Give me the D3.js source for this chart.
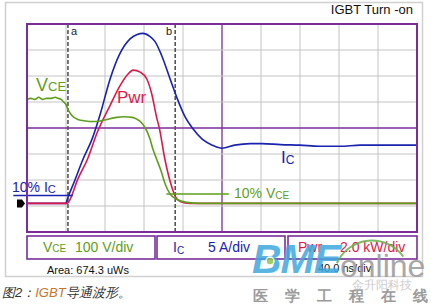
<!DOCTYPE html>
<html><head><meta charset="utf-8">
<script src="https://cdn.jsdelivr.net/npm/d3@7"></script>
<style>
body{margin:0;background:#fff}
svg{display:block}
text{font-family:"Liberation Sans",Arial,sans-serif}
</style>
</head><body>
<svg id="chart" width="431" height="305"></svg>
<script>
// ---- data ----
const timeTicks = d3.range(0, 401, 40);      // 40.0 ns/div, 10 divisions
const divTicks  = d3.range(-4, 5, 1);        // 8 vertical divisions
const groundDiv = -2.9;                      // ground reference marker (divisions)

const vceTime  = [0,4,8,12,16,20,25,29,32,35,37,40,42,46,52,60,68,75,82,92,100,108,113,117,121,126,129,133,137,142,147,154,164,177,400];
const vceVolts = [400,404,400,408,400,404,404,408,404,400,392,380,362,338,323,317,315,317,323,331,333,331,323,312,292,250,210,170,130,72,35,15,4,0,0];

const icTime = [0,40,41,49,57,67,75,85,95,106,113,119,126,131,138,147,154,162,170,180,190,200,213,229,241,260,280,300,321,342,362,383,400];
const icAmps = [0,0,0.6,4.4,8.3,12.5,17.1,23.8,28.7,31.7,32.5,32.7,32.1,31.2,28.5,23.8,20.2,16.7,14.4,12.3,11.2,10.6,11.2,11.5,11.5,11.3,11.2,11.0,11.0,11.2,11.2,11.2,11.2];

const pwrTime = [0,41,43,52,62,72,85,95,103,109,116,123,128,133,136,141,145,149,152,157,167,400];
const pwrKW   = [0,0,0.15,1.85,3.4,5.45,7.5,9.0,9.9,10.25,10.1,9.55,8.4,6.6,5.7,3.55,2.2,1.15,0.55,0.15,0,0];

const cursorNames = ["a", "b"];
const cursorTimes = [42, 152];

const tenPctIC  = 1.5;     // A
const tenPctVCE = 36;      // V

const channelNames  = ["V", "I", "Pwr"];
const channelSubs   = ["CE", "C", ""];
const channelScales = ["100 V/div", "5 A/div", "2.0 kW/div"];
const channelPerDiv = [100, 5, 2.0];
const areaText = "Area:  674.3 uWs";
const timebaseText = "40.0 ns/div";
const titleText = "IGBT Turn -on";
const watermarkChars = ["医", "学", "工", "程", "在", "线"];

// ---- styles ----
const C = {green:"#5e9e1c", blue:"#1a22b0", red:"#dc1a4a", purple:"#7b2d9b", grid:"#c4c4c4", frame:"#d0d0d0"};

const svg = d3.select("#chart");
const L = 27, R = 417, T = 24, B = 232;

const x = d3.scaleLinear().domain([0, 400]).range([L, R]);
const yDiv = d3.scaleLinear().domain([-4, 4]).range([B, T]);
const chanY = vpd => d3.scaleLinear().domain([(-4 - groundDiv) * vpd, (4 - groundDiv) * vpd]).range([B, T]);
const yV = chanY(channelPerDiv[0]), yI = chanY(channelPerDiv[1]), yP = chanY(channelPerDiv[2]);

// outer frame
svg.append("rect").attr("x", 5.5).attr("y", 2.5).attr("width", 417).attr("height", 274)
  .attr("fill", "#fff").attr("stroke", C.frame).attr("stroke-width", 1.5);

// title
svg.append("text").attr("x", 413).attr("y", 14).attr("text-anchor", "end")
  .attr("font-size", 13).attr("fill", "#111").text(titleText);

// plot background
svg.append("rect").attr("x", L).attr("y", T).attr("width", R - L).attr("height", B - T).attr("fill", "#fff");

// grid
const g = svg.append("g");
g.selectAll(".vg").data(timeTicks.slice(1, -1)).join("line")
  .attr("x1", d => x(d)).attr("x2", d => x(d)).attr("y1", T).attr("y2", B)
  .attr("stroke", d => d === 200 ? C.purple : C.grid).attr("stroke-width", d => d === 200 ? 1.3 : 1);
g.selectAll(".hg").data(divTicks.slice(1, -1)).join("line")
  .attr("y1", d => yDiv(d)).attr("y2", d => yDiv(d)).attr("x1", L).attr("x2", R)
  .attr("stroke", d => d === 0 ? C.purple : C.grid).attr("stroke-width", d => d === 0 ? 1.3 : 1);

// cursors
cursorTimes.forEach((t, i) => {
  svg.append("line").attr("x1", x(t)).attr("x2", x(t)).attr("y1", T).attr("y2", B)
    .attr("stroke", "#555").attr("stroke-width", 1.6).attr("stroke-dasharray", "4,2");
  svg.append("text").attr("x", i === 0 ? x(t) + 3 : x(t) - 3).attr("y", 35)
    .attr("text-anchor", i === 0 ? "start" : "end").attr("font-size", 11).attr("fill", "#222")
    .text(cursorNames[i]);
});

// traces
const mk = (ts, vs, ys) => d3.line().x((d, i) => x(ts[i])).y(d => ys(d)).curve(d3.curveMonotoneX)(vs);
svg.append("path").attr("d", mk(icTime, icAmps, yI)).attr("fill", "none").attr("stroke", C.blue).attr("stroke-width", 1.6);
svg.append("path").attr("d", mk(pwrTime, pwrKW, yP)).attr("fill", "none").attr("stroke", C.red).attr("stroke-width", 1.6);
svg.append("path").attr("d", mk(vceTime, vceVolts, yV)).attr("fill", "none").attr("stroke", C.green).attr("stroke-width", 1.6);

// 10% markers
svg.append("line").attr("x1", x(-14)).attr("x2", x(47)).attr("y1", yI(tenPctIC)).attr("y2", yI(tenPctIC))
  .attr("stroke", C.blue).attr("stroke-width", 1.5);
svg.append("line").attr("x1", x(143)).attr("x2", x(207)).attr("y1", yV(tenPctVCE)).attr("y2", yV(tenPctVCE))
  .attr("stroke", C.green).attr("stroke-width", 1.5);

const subText = (xx, yy, main, sub, size, subSize, color, dy) => {
  const t = svg.append("text").attr("x", xx).attr("y", yy).attr("font-size", size).attr("fill", color);
  t.append("tspan").text(main);
  t.append("tspan").attr("font-size", subSize).attr("dy", dy || 0).text(sub);
  return t;
};
subText(12, 192, "10% I", "C", 14, 11, C.blue, 1);
subText(234, 198, "10% V", "CE", 14, 10, C.green, 1);
subText(36, 91, "V", "CE", 18, 13, C.green);
svg.append("text").attr("x", 117).attr("y", 103).attr("font-size", 17).attr("fill", C.red).text("Pwr");
subText(281, 163, "I", "C", 17, 12, C.blue, 1);

// ground marker
svg.append("path").attr("transform", `translate(17,${yDiv(groundDiv)})`)
  .attr("d", "M0,-4H5L8,0L5,4H0Z").attr("fill", "#000");

// plot border
svg.append("rect").attr("x", L).attr("y", T).attr("width", R - L).attr("height", B - T)
  .attr("fill", "none").attr("stroke", C.purple).attr("stroke-width", 2);

// channel boxes
const boxX = [27, 157, 288], boxW = [128, 128, 129];
const chanColors = [C.green, C.blue, C.red];
const nameX = [43, 173, 298], scaleX = [75, 208, 340];
channelNames.forEach((n, i) => {
  svg.append("rect").attr("x", boxX[i]).attr("y", 236).attr("width", boxW[i]).attr("height", 23)
    .attr("fill", "#fff").attr("stroke", C.purple).attr("stroke-width", 1.6);
  const t = svg.append("text").attr("x", nameX[i]).attr("y", 252).attr("font-size", 14).attr("fill", chanColors[i]);
  t.append("tspan").text(n);
  if (channelSubs[i]) t.append("tspan").attr("font-size", 10).attr("dy", i === 1 ? 2 : 0).text(channelSubs[i]);
  svg.append("text").attr("x", scaleX[i]).attr("y", 252).attr("font-size", 14).attr("fill", chanColors[i]).text(channelScales[i]);
});

svg.append("text").attr("x", 47).attr("y", 274).attr("font-size", 11).attr("fill", "#111").text(areaText);
svg.append("text").attr("x", 318).attr("y", 272).attr("font-size", 11).attr("fill", "#111").text(timebaseText);

// caption
const cap = svg.append("text").attr("x", 2).attr("y", 297).attr("font-size", 13).attr("font-style", "italic")
  .attr("font-family", "'Noto Sans CJK SC', sans-serif").attr("fill", "#333");
cap.append("tspan").text("图2：");
cap.append("tspan").attr("fill", "#c8742a").text("IGBT");
cap.append("tspan").text("导通波形。");

// watermark
const wm = svg.append("g").attr("opacity", 0.85);
wm.append("text").attr("x", 252).attr("y", 273).attr("font-size", 41).attr("font-weight", "bold")
  .attr("font-style", "italic").attr("fill", "#3fa9df").attr("letter-spacing", -1).text("BME");
wm.append("circle").attr("cx", 270).attr("cy", 261).attr("r", 4).attr("fill", "#8cc84a").attr("stroke", "#fff").attr("stroke-width", 1.5);
wm.append("path").attr("transform", "translate(372,279)")
  .attr("d", d3.arc().innerRadius(37.5).outerRadius(39.5).startAngle(-1.15).endAngle(0.95)())
  .attr("fill", "#6ab04c");
wm.append("text").attr("x", 340).attr("y", 277).attr("font-size", 32).attr("fill", "#9a9a9a").text("online");
wm.append("text").attr("x", 352).attr("y", 289).attr("font-size", 12)
  .attr("font-family", "'Noto Sans CJK SC', sans-serif").attr("fill", "#c4c4c4").text("金升阳科技");
wm.selectAll(".wc").data(watermarkChars).join("text")
  .attr("x", (d, i) => 253 + i * 32).attr("y", 301).attr("font-size", 15).attr("font-weight", "bold")
  .attr("font-family", "'Noto Sans CJK SC', sans-serif").attr("fill", "#8a8a8a").text(d => d);
</script>
</body></html>
